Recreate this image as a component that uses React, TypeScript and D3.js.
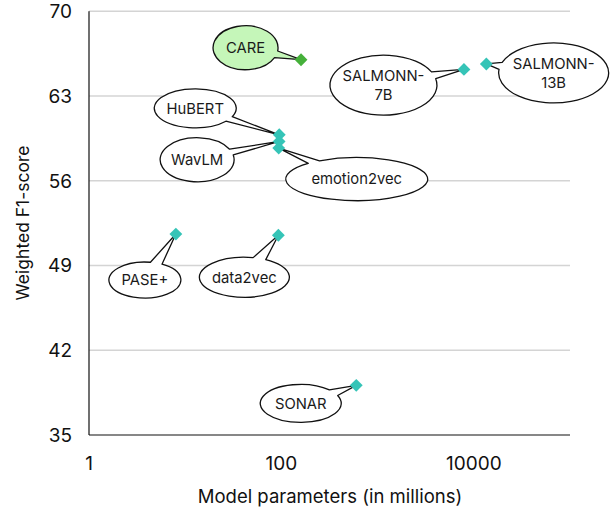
import React from "react";
import * as d3 from "d3";

const models = ["CARE", "HuBERT", "WavLM", "emotion2vec", "PASE+", "data2vec", "SONAR", "SALMONN-7B", "SALMONN-13B"];
const paramsM = [160, 95, 94.7, 93.8, 8, 93, 600, 7900, 13500];
const f1Scores = [66.0, 59.8, 59.25, 58.7, 51.6, 51.5, 39.1, 65.2, 65.65];
const xTicks = [1, 100, 10000];
const yTicks = [35, 42, 49, 56, 63, 70];

// callout layout (offset of ellipse centre from its point, radii, tail half-angle)
const calloutLines = [["CARE"], ["HuBERT"], ["WavLM"], ["emotion2vec"], ["PASE+"], ["data2vec"], ["SONAR"], ["SALMONN-", "7B"], ["SALMONN-", "13B"]];
const calloutDx = [-55.5, -84, -82, 78, -31, -34, -55.5, -80.5, 67.3];
const calloutDy = [-12, -26.5, 18.3, 31, 46, 42, 18, 15.7, 9];
const calloutRx = [32.5, 41, 37, 71, 36, 45, 40.5, 53.5, 55];
const calloutRy = [22, 19.5, 22, 21.5, 18, 20, 19, 30, 30];
const calloutDelta = [0.16, 0.14, 0.14, 0.1, 0.17, 0.15, 0.18, 0.12, 0.12];

const W = 613;
const H = 510;
const left = 89;
const right = 570;
const top = 11.3;
const bottom = 435;
const FONT = "Inter, 'Open Sans', sans-serif";

function calloutPath(cx: number, cy: number, rx: number, ry: number, tx: number, ty: number, d: number) {
  const t = Math.atan2((ty - cy) / ry, (tx - cx) / rx);
  const p1x = cx + rx * Math.cos(t - d), p1y = cy + ry * Math.sin(t - d);
  const p2x = cx + rx * Math.cos(t + d), p2y = cy + ry * Math.sin(t + d);
  return `M${p2x},${p2y} A${rx},${ry} 0 1 1 ${p1x},${p1y} L${tx},${ty} Z`;
}

export default function App() {
  const x = d3.scaleLog().domain([1, 100000]).range([left, right]);
  const y = d3.scaleLinear().domain([35, 70]).range([bottom, top]);
  const diamond = d3.symbol().type(d3.symbolDiamond2).size(105);

  return (
    <svg width={W} height={H} style={{ position: "absolute", left: 0, top: 0, background: "#fff" }} fontFamily={FONT}>
      {yTicks.map((v) => (
        <g key={"y" + v}>
          {v !== 35 && <line x1={left} x2={right} y1={y(v)} y2={y(v)} stroke="#d4d4d4" strokeWidth={1.5} />}
          <text x={72} y={y(v)} dy="0.36em" textAnchor="end" fontSize={19} fill="#111">{v}</text>
        </g>
      ))}
      {xTicks.map((v) => (
        <text key={"x" + v} x={x(v)} y={470} textAnchor="middle" fontSize={19} fill="#111">{v}</text>
      ))}
      <line x1={left} x2={left} y1={top} y2={bottom} stroke="#111" strokeWidth={1.2} />
      <line x1={left} x2={right} y1={bottom} y2={bottom} stroke="#111" strokeWidth={1.2} />
      <text x={330} y={503} textAnchor="middle" fontSize={18.5} fill="#111">Model parameters (in millions)</text>
      <text transform={`translate(29,223) rotate(-90)`} textAnchor="middle" fontSize={17.5} fill="#111">Weighted F1-score</text>

      {models.map((m, i) => {
        const px = x(paramsM[i]);
        const py = y(f1Scores[i]);
        const cx = px + calloutDx[i];
        const cy = py + calloutDy[i];
        const lines = calloutLines[i];
        const isCare = m === "CARE";
        return (
          <g key={"c" + m}>
            <path d={calloutPath(cx, cy, calloutRx[i], calloutRy[i], px, py, calloutDelta[i])} fill={isCare ? "#c5f6b9" : "#fff"} stroke="#111" strokeWidth={1.3} strokeLinejoin="round" />
            {lines.map((l, j) => (
              <text key={j} x={cx} y={cy + (j - (lines.length - 1) / 2) * 19} dy="0.36em" textAnchor="middle" fontSize={14.8} fill="#1a1a1a">{l}</text>
            ))}
          </g>
        );
      })}
      {models.map((m, i) => (
        <path key={"p" + m} d={diamond() as string} transform={`translate(${x(paramsM[i])},${y(f1Scores[i])})`} fill={m === "CARE" ? "#45b03a" : "#35c4b7"} />
      ))}
    </svg>
  );
}
